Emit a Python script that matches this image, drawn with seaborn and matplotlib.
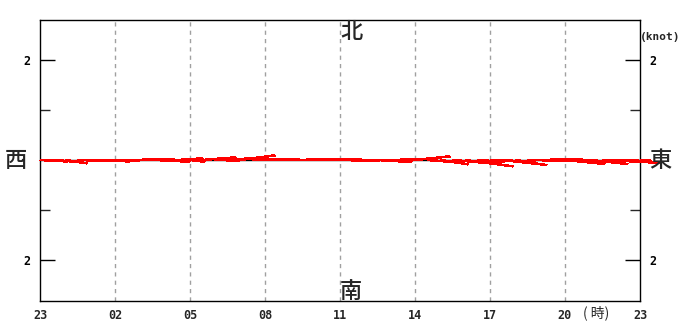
import numpy as np
import pandas as pd
import matplotlib
matplotlib.use("Agg")
import matplotlib.pyplot as plt
import seaborn as sns

# ---- data ----
hour_ticks = [0, 3, 6, 9, 12, 15, 18, 21, 24]
hour_labels = ["23", "02", "05", "08", "11", "14", "17", "20", "23"]
# sample times (hours after 23:00), every 30 min
times = [0.5 * k for k in range(49)]
# east (u) and north (v) components, knots
u_east = [0.56, 0.55, 0.44, 0.55, 0.64, 0.55, 0.50, 0.65, 0.70, 0.50,
          0.50, 0.51, 0.30, 0.67, 0.50, 0.73, 0.70, 0.69, 0.70, 0.85,
          0.96, 0.75, 0.60, 0.69, 0.70, 0.55, 0.70, 0.69, 0.64, 0.65,
          0.70, 0.45, 0.56, 0.71, 0.96, 0.55, 0.60, 0.89, 0.44, 0.65,
          0.86, 0.79, 0.80, 0.75, 0.76, 0.75, 0.90, 0.55, 0.20]
v_north = [-0.03, -0.04, -0.066, -0.015, -0.02, -0.03, -0.01, 0.01, 0.01, -0.015,
           -0.04, 0.034, -0.034, 0.054, -0.01, 0.054, 0.094, 0.014, 0.01, 0.0,
           0.014, 0.0, 0.01, 0.01, -0.015, -0.01, 0.0, -0.04, 0.014, 0.034,
           0.074, -0.034, -0.086, -0.06, -0.126, -0.04, -0.02, -0.10, -0.06, -0.01,
           0.02, -0.034, -0.08, -0.034, -0.08, -0.034, -0.06, -0.04, -0.01]

df = pd.DataFrame({"t": times, "u": u_east, "v": v_north})

sns.set_style("white")
plt.rcParams["font.family"] = ["DejaVu Sans Mono", "Noto Sans CJK JP", "DejaVu Sans"]

fig = plt.figure(figsize=(6.8, 3.22), dpi=100)
ax = fig.add_axes([40 / 680, 21 / 322, 600 / 680, 281 / 322])

# hours per knot so that 1 knot horizontally == 1 knot vertically in pixels
hpk = 2.0

ax.set_xlim(0, 24)
ax.set_ylim(-2.82, 2.8)

# grid lines
for h in hour_ticks[1:-1]:
    ax.axvline(h, color="#a0a0a0", lw=1.0, ls=(0, (3, 3)), zorder=1)

# baseline
base = pd.DataFrame({"t": [0, 24], "y": [0, 0]})
sns.lineplot(data=base, x="t", y="y", color="black", lw=1.0, ax=ax, zorder=2)

# sticks
for _, r in df.iterrows():
    ax.plot([r.t, r.t + r.u * hpk], [0, r.v], color="red", lw=1.1,
            solid_capstyle="butt", zorder=3, clip_on=False, antialiased=False)

# axes styling
for s in ax.spines.values():
    s.set_color("black")
    s.set_linewidth(1.0)
ax.set_xlabel("")
ax.set_ylabel("")
ax.set_xticks(hour_ticks)
ax.set_xticklabels(hour_labels, fontsize=8.5, fontweight="bold")
ax.tick_params(axis="x", length=0, pad=6)

ax.set_yticks([-2, 2])
ax.set_yticklabels(["2", "2"], fontsize=8.5, fontweight="bold")
ax.set_yticks([-1, 1], minor=True)
ax.tick_params(axis="y", which="major", direction="in", length=11, width=1.0,
               left=True, right=True, labelleft=True, labelright=True, pad=7,
               colors="black")
ax.tick_params(axis="y", which="minor", direction="in", length=7.5, width=1.0,
               left=True, right=True)

cjk = ["Noto Sans CJK JP", "DejaVu Sans"]
for x, y, s in [(351, 31, "北"), (351, 291, "南"), (16, 160, "西"), (660, 160, "東")]:
    fig.text(x / 680, 1 - y / 322, s, fontsize=16, family=cjk, fontweight="medium",
             ha="center", va="center")
fig.text(660 / 680, 1 - 37 / 322, "(knot)", fontsize=8, fontweight="bold",
         family=["DejaVu Sans Mono"], ha="center", va="center")
fig.text(596 / 680, 1 - 313 / 322, "( 時)", fontsize=10,
         family=["Noto Sans CJK JP", "DejaVu Sans"], ha="center", va="center")

fig.savefig("out.png", dpi=100, facecolor="white")
